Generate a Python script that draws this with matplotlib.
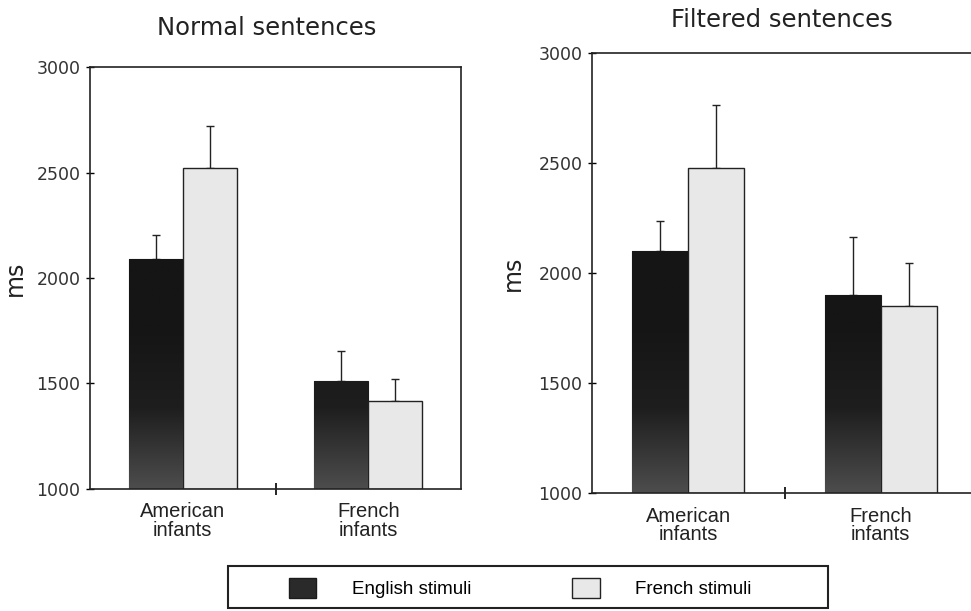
import matplotlib.pyplot as plt
from matplotlib.patches import Patch, Rectangle
from matplotlib.colors import LinearSegmentedColormap
import matplotlib.transforms as mtransforms
import numpy as np

# Data (mean looking time, ms) and upper error bar length
groups = ['American\ninfants', 'French\ninfants']
normal_english = [2090, 1510]
normal_english_err = [115, 145]
normal_french = [2520, 1415]
normal_french_err = [200, 105]
filtered_english = [2100, 1900]
filtered_english_err = [136, 264]
filtered_french = [2477, 1850]
filtered_french_err = [287, 195]
yticks = [1000, 1500, 2000, 2500, 3000]

dark = '#1b1b1b'
light = '#e8e8e8'
ink = '#222222'

# dark bars fade to grey at the bottom
shade = LinearSegmentedColormap.from_list('shade', ['#4d4d4d', '#1e1e1e', '#151515', '#151515'])
grad = np.linspace(0, 1, 256).reshape(-1, 1)

fig = plt.figure(figsize=(9.71, 6.11), dpi=100)
ax1 = fig.add_axes([0.0927, 0.1997, 0.3821, 0.6906])
ax2 = fig.add_axes([0.6097, 0.1931, 0.3965, 0.7202])


def draw_panel(ax, eng, eng_err, fr, fr_err, label_x):
    x = np.arange(len(groups))
    w = 0.29
    bars = ax.bar(x - w / 2, np.array(eng) - 1000, w, bottom=1000, color=dark,
                  edgecolor=dark, linewidth=0.8, zorder=2)
    for b in bars:
        x0, y0 = b.get_x(), b.get_y()
        im = ax.imshow(grad, cmap=shade, origin='lower', aspect='auto', zorder=2.1,
                       extent=(x0, x0 + b.get_width(), y0, 1000 + 1150),
                       interpolation='bilinear')
        im.set_clip_path(b)
    ax.bar(x + w / 2, np.array(fr) - 1000, w, bottom=1000, color=light,
           edgecolor=ink, linewidth=1.0, zorder=2)
    ax.errorbar(x - w / 2, eng, yerr=[np.zeros(len(eng)), eng_err], fmt='none',
                ecolor=ink, elinewidth=1.0, capsize=3, capthick=1.0, zorder=1)
    ax.errorbar(x + w / 2, fr, yerr=[np.zeros(len(fr)), fr_err], fmt='none',
                ecolor=ink, elinewidth=1.0, capsize=3, capthick=1.0, zorder=1)
    ax.set_xlim(-0.5, 1.5)
    ax.set_ylim(1000, 3000)
    ax.set_yticks(yticks)
    ax.tick_params(axis='y', direction='inout', length=6, width=1.0,
                   labelsize=12.5, labelcolor='#333333', pad=4)
    ax.set_xticks([0.5])
    ax.set_xticklabels([''])
    ax.tick_params(axis='x', which='major', direction='inout', length=8, width=1.2)
    trans = mtransforms.blended_transform_factory(ax.transData, ax.transAxes)
    for xi, g in zip(x, groups):
        ax.text(xi, -0.032, g, transform=trans, ha='center', va='top',
                family='Liberation Sans', fontsize=14.5, linespacing=0.95, color=ink)
    for s in ax.spines.values():
        s.set_linewidth(1.2)
        s.set_color(ink)
    ax.set_ylabel('ms', fontsize=17, color=ink)
    ax.yaxis.set_label_coords(label_x, 0.5)


draw_panel(ax1, normal_english, normal_english_err, normal_french,
           normal_french_err, -0.17)
draw_panel(ax2, filtered_english, filtered_english_err, filtered_french,
           filtered_french_err, -0.174)

fig.text(267 / 971, 1 - 28 / 611, 'Normal sentences', ha='center', va='center',
         fontsize=17.5, color=ink)
fig.text(782 / 971, 1 - 20 / 611, 'Filtered sentences', ha='center', va='center',
         fontsize=17.5, color=ink)

# Legend box at the bottom
fig.patches.append(Rectangle((228 / 971, 3 / 611), 600 / 971, 62 / 611 - 20 / 611,
                             transform=fig.transFigure, fill=False,
                             edgecolor=ink, linewidth=1.5))
handles = [Patch(facecolor='#2a2a2a', edgecolor=dark, label='English stimuli'),
           Patch(facecolor=light, edgecolor=ink, label='French stimuli')]
fig.legend(handles=handles, loc='center left', bbox_to_anchor=(289 / 971, 1 - 588 / 611),
           ncol=2, frameon=False, borderpad=0, borderaxespad=0,
           handlelength=1.45, handleheight=1.25, handletextpad=1.9,
           columnspacing=5.4, prop={'family': 'Liberation Sans', 'size': 13.5})

fig.savefig('out.png', dpi=100)
